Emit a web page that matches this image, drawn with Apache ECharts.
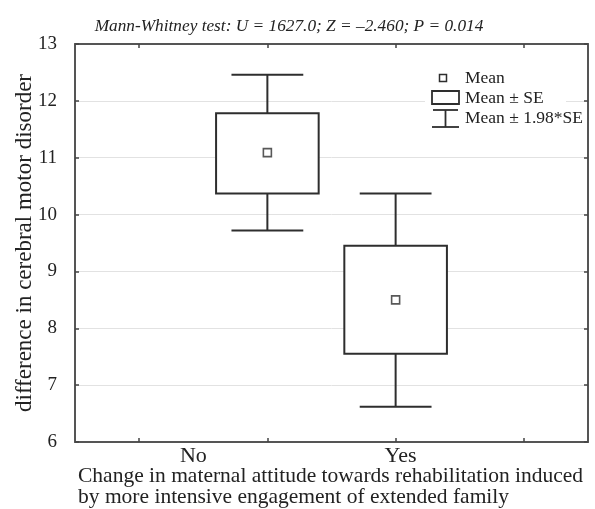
<!DOCTYPE html>
<html>
<head>
<meta charset="utf-8">
<script src="https://cdn.jsdelivr.net/npm/echarts@6/dist/echarts.min.js"></script>
<style>html,body{margin:0;padding:0;background:#fff;}#c{width:595px;height:509px;}</style>
</head>
<body>
<div id="c"></div>
<script>
const categories = ['', 'No', 'Yes', ''];
const groups = ['No', 'Yes'];
const means = [11.09, 8.50];
const seLow = [10.37, 7.55];
const seHigh = [11.78, 9.45];
const ciLow = [9.72, 6.62];
const ciHigh = [12.46, 10.37];
const yTicks = { min: 6, max: 13, interval: 1 };
const titleText = 'Mann-Whitney test: U = 1627.0; Z = \u20132.460; P = 0.014';
const xName = 'Change in maternal attitude towards rehabilitation induced\nby more intensive engagement of extended family';
const yName = 'difference in cerebral motor disorder';
const legendLabels = ['Mean', 'Mean \u00b1 SE', 'Mean \u00b1 1.98*SE'];

const FONT = 'Liberation Serif';
const INK = '#2e2e2e';
const chart = echarts.init(document.getElementById('c'), null, { renderer: 'canvas' });

const boxData = groups.map((g, i) => [g, seLow[i], seHigh[i], ciLow[i], ciHigh[i]]);
const meanData = groups.map((g, i) => [g, means[i]]);

const option = {
  animation: false,
  backgroundColor: '#fff',
  title: [
    { text: titleText, left: 289, top: 18, padding: 0, textAlign: 'center',
      textStyle: { fontFamily: FONT, fontStyle: 'italic', fontWeight: 'normal', fontSize: 17.3, color: '#222' } },
    { text: xName, left: 78, top: 466, padding: 0,
      textStyle: { fontFamily: FONT, fontWeight: 'normal', fontSize: 21.5, color: '#222', lineHeight: 21 } }
  ],
  grid: { left: 75, right: 7, top: 44, bottom: 67, containLabel: false, outerBoundsMode: 'none' },
  xAxis: [
    { type: 'category', data: categories, boundaryGap: true, position: 'bottom',
      axisLine: { lineStyle: { color: '#555', width: 2 } },
      axisTick: { show: true, inside: true, alignWithLabel: true, length: 4, lineStyle: { color: '#444', width: 1.5 } },
      axisLabel: { margin: 3, color: '#222', fontFamily: FONT, fontSize: 22,
        formatter: v => v === 'No' ? '{n|No}' : (v === 'Yes' ? '{y|Yes}' : ''),
        rich: {
          n: { fontFamily: FONT, fontSize: 22, color: '#222', padding: [0, 148, 0, 0] },
          y: { fontFamily: FONT, fontSize: 22, color: '#222', padding: [0, 0, 0, 10] }
        } },
      splitLine: { show: false } },
    { type: 'category', data: categories, boundaryGap: true, position: 'top',
      axisLine: { lineStyle: { color: '#555', width: 2 } },
      axisTick: { show: true, inside: true, alignWithLabel: true, length: 4, lineStyle: { color: '#444', width: 1.5 } },
      axisLabel: { show: false }, splitLine: { show: false } }
  ],
  yAxis: [
    { type: 'value', min: yTicks.min, max: yTicks.max, interval: yTicks.interval, position: 'left',
      name: yName, nameLocation: 'middle', nameGap: 39, nameRotate: 90, nameMoveOverlap: false,
      nameTextStyle: { fontFamily: FONT, fontSize: 23, color: '#222' },
      axisLine: { show: true, lineStyle: { color: '#555', width: 2 } },
      axisTick: { show: true, inside: true, length: 4, lineStyle: { color: '#444', width: 1.5 } },
      axisLabel: { margin: 18, color: '#222', fontFamily: FONT, fontSize: 19 },
      splitLine: { show: true, lineStyle: { color: '#e2e2e2', width: 1 } } },
    { type: 'value', min: yTicks.min, max: yTicks.max, interval: yTicks.interval, position: 'right',
      axisLine: { show: true, lineStyle: { color: '#555', width: 2 } },
      axisTick: { show: true, inside: true, length: 4, lineStyle: { color: '#444', width: 1.5 } },
      axisLabel: { show: false }, splitLine: { show: false } }
  ],
  series: [
    { type: 'custom', name: 'box', xAxisIndex: 0, yAxisIndex: 0, data: boxData,
      encode: { x: 0, y: [1, 2, 3, 4] },
      renderItem: function (params, api) {
        const x = api.value(0);
        const pLo = api.coord([x, api.value(1)]);
        const pHi = api.coord([x, api.value(2)]);
        const wLo = api.coord([x, api.value(3)]);
        const wHi = api.coord([x, api.value(4)]);
        const band = api.size([1, 0])[0];
        const bw = band * 0.8, ww = band * 0.56;
        const cx = pLo[0];
        const st = { stroke: INK, lineWidth: 2, fill: null };
        return { type: 'group', children: [
          { type: 'line', shape: { x1: cx, y1: wHi[1], x2: cx, y2: pHi[1] }, style: st },
          { type: 'line', shape: { x1: cx, y1: pLo[1], x2: cx, y2: wLo[1] }, style: st },
          { type: 'line', shape: { x1: cx - ww / 2, y1: wHi[1], x2: cx + ww / 2, y2: wHi[1] }, style: st },
          { type: 'line', shape: { x1: cx - ww / 2, y1: wLo[1], x2: cx + ww / 2, y2: wLo[1] }, style: st },
          { type: 'rect', shape: { x: cx - bw / 2, y: pHi[1], width: bw, height: pLo[1] - pHi[1] },
            style: { stroke: INK, lineWidth: 2, fill: '#fff' } }
        ] };
      } },
    { type: 'scatter', name: 'mean', data: meanData, symbol: 'rect', symbolSize: 8,
      itemStyle: { color: '#fff', borderColor: INK, borderWidth: 1.6 }, z: 5 }
  ],
  graphic: [
    { type: 'rect', z: 10, shape: { x: 425, y: 66, width: 141, height: 66 }, style: { fill: '#fff' } },
    { type: 'rect', z: 11, shape: { x: 439.5, y: 74.5, width: 7, height: 7 }, style: { fill: '#fff', stroke: INK, lineWidth: 1.5 } },
    { type: 'rect', z: 11, shape: { x: 432, y: 91, width: 27, height: 13 }, style: { fill: '#fff', stroke: INK, lineWidth: 1.8 } },
    { type: 'line', z: 11, shape: { x1: 433, y1: 110, x2: 458, y2: 110 }, style: { stroke: INK, lineWidth: 1.8 } },
    { type: 'line', z: 11, shape: { x1: 445.5, y1: 110, x2: 445.5, y2: 127 }, style: { stroke: INK, lineWidth: 1.8 } },
    { type: 'line', z: 11, shape: { x1: 432, y1: 127, x2: 459, y2: 127 }, style: { stroke: INK, lineWidth: 1.8 } },
    { type: 'text', z: 11, x: 465, y: 78, style: { text: legendLabels[0], font: '17.5px "' + FONT + '"', fill: '#222', verticalAlign: 'middle' } },
    { type: 'text', z: 11, x: 465, y: 98, style: { text: legendLabels[1], font: '17.5px "' + FONT + '"', fill: '#222', verticalAlign: 'middle' } },
    { type: 'text', z: 11, x: 465, y: 118, style: { text: legendLabels[2], font: '17.5px "' + FONT + '"', fill: '#222', verticalAlign: 'middle' } }
  ]
};
chart.setOption(option);
</script>
</body>
</html>
